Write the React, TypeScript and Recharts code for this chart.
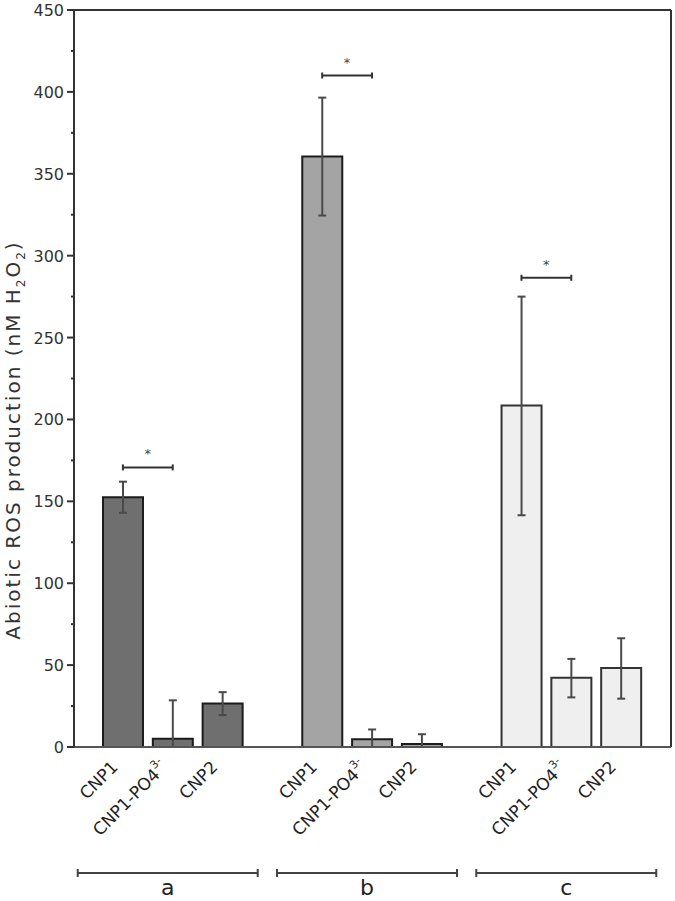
import { BarChart, Bar, XAxis, YAxis, ErrorBar, Cell, ReferenceLine, CartesianGrid } from 'recharts';

const groups = ['a', 'b', 'c'];
const samples = ['CNP1', 'CNP1-PO4', 'CNP2'];

// mean values per group, in sample order
const groupA = [152.5, 5, 26.5];
const groupB = [360.5, 4.7, 1.8];
const groupC = [208.5, 42.3, 48.2];

// [minus, plus] error per sample
const errA = [[9.5, 9.5], [5, 23.5], [7, 7]];
const errB = [[36, 36], [4.7, 6], [1.8, 6]];
const errC = [[67, 66.5], [12, 11.5], [18.7, 18.2]];

// height of the * bracket between CNP1 and CNP1-PO4 in each group
const sigLevels = [170.7, 410, 286.5];

const groupFills = ['#6f6f6f', '#a4a4a4', '#efefef'];
const groupStrokes = ['#1c1c1c', '#1c1c1c', '#333333'];

const yTicks = [0, 25, 50, 75, 100, 125, 150, 175, 200, 225, 250, 275, 300, 325, 350, 375, 400, 425, 450];

const values = [groupA, groupB, groupC];
const errors = [errA, errB, errC];

type Row = { key: string; value: number | null; err?: number[]; g?: number; s?: number };

const rows: Row[] = [];
groups.forEach((g, gi) => {
  samples.forEach((s, si) => {
    rows.push({ key: `${g}-${si}`, value: values[gi][si], err: errors[gi][si], g: gi, s: si });
  });
  if (gi < groups.length - 1) rows.push({ key: `gap-${gi}`, value: null });
});

const AXIS_X = 74;
const AXIS_Y = 747;
const FONT = '"DejaVu Sans", sans-serif';

function YTick({ y, payload }: any) {
  const major = payload.value % 50 === 0;
  return (
    <g>
      <line x1={AXIS_X - (major ? 7 : 3)} x2={AXIS_X} y1={y} y2={y} stroke="#333" strokeWidth={2} />
      {major && (
        <text x={AXIS_X - 10} y={y} dy={6} textAnchor="end" fontSize={16} fill="#333" fontFamily={FONT}>
          {payload.value}
        </text>
      )}
    </g>
  );
}

function XTick({ x, payload }: any) {
  const row = rows.find((r) => r.key === payload.value);
  if (!row || row.s == null) return null;
  const tx = x - 4;
  const ty = AXIS_Y + 21;
  return (
    <g>
      <g transform={`translate(${tx}, ${ty}) rotate(-45)`}>
        <text x={0} y={0} textAnchor="end" fontSize={17} fill="#222" fontFamily={FONT}>
          {samples[row.s]}
          {row.s === 1 && (
            <tspan dy={-9} fontSize={11}>
              3-
            </tspan>
          )}
        </text>
      </g>
      {row.s === 1 && (
        <g>
          <line x1={x - 95} x2={x + 85} y1={AXIS_Y + 126} y2={AXIS_Y + 126} stroke="#444" strokeWidth={2} />
          <line x1={x - 95} x2={x - 95} y1={AXIS_Y + 122} y2={AXIS_Y + 130} stroke="#444" strokeWidth={2} />
          <line x1={x + 85} x2={x + 85} y1={AXIS_Y + 122} y2={AXIS_Y + 130} stroke="#444" strokeWidth={2} />
          <text x={x - 5} y={AXIS_Y + 148} textAnchor="middle" fontSize={22} fill="#222" fontFamily={FONT}>
            {groups[row.g as number]}
          </text>
        </g>
      )}
    </g>
  );
}

function YLabel() {
  const cx = 20;
  const cy = 440;
  return (
    <g transform={`translate(${cx}, ${cy}) rotate(-90)`}>
      <text x={0} y={0} textAnchor="middle" fontSize={20} letterSpacing={2} fill="#333" fontFamily={FONT}>
        Abiotic ROS production (nM H
        <tspan dy={5} fontSize={12}>2</tspan>
        <tspan dy={-5}>O</tspan>
        <tspan dy={5} fontSize={12}>2</tspan>
        <tspan dy={-5}>)</tspan>
      </text>
    </g>
  );
}

function SigBracket(props: any) {
  const { x1, x2, y1 } = props;
  if (x1 == null) return null;
  return (
    <g>
      <line x1={x1} x2={x2} y1={y1} y2={y1} stroke="#333" strokeWidth={2} />
      <line x1={x1} x2={x1} y1={y1 - 3} y2={y1 + 3} stroke="#333" strokeWidth={2} />
      <line x1={x2} x2={x2} y1={y1 - 3} y2={y1 + 3} stroke="#333" strokeWidth={2} />
      <text x={(x1 + x2) / 2} y={y1 - 9} textAnchor="middle" fontSize={13} fill="#444" fontFamily={FONT}>
        *
      </text>
    </g>
  );
}

export default function App() {
  return (
    <div style={{ position: 'fixed', left: 0, top: 0, background: '#fff' }}>
      <BarChart width={675} height={901} data={rows} margin={{ top: 10, right: 4, bottom: 0, left: 0 }}>
        {/* top and right frame lines */}
        <CartesianGrid
          stroke="#333"
          strokeWidth={2}
          horizontalCoordinatesGenerator={({ offset }: any) => [offset.top]}
          verticalCoordinatesGenerator={({ offset }: any) => [offset.left + offset.width]}
        />
        <XAxis
          dataKey="key"
          interval={0}
          height={154}
          tickLine={false}
          tick={<XTick />}
          padding={{ left: 24, right: 25 }}
          axisLine={{ stroke: '#555', strokeWidth: 2 }}
        />
        <YAxis
          width={74}
          domain={[0, 450]}
          ticks={yTicks}
          interval={0}
          tickLine={false}
          tick={<YTick />}
          axisLine={{ stroke: '#333', strokeWidth: 2 }}
          label={{ content: () => <YLabel /> }}
        />
        <Bar dataKey="value" barSize={40} strokeWidth={2} isAnimationActive={false}>
          {rows.map((r) => (
            <Cell
              key={r.key}
              fill={r.g != null ? groupFills[r.g] : 'none'}
              stroke={r.g != null ? groupStrokes[r.g] : 'none'}
            />
          ))}
          <ErrorBar dataKey="err" width={4} stroke="#4a4a4a" strokeWidth={2} />
        </Bar>
        {groups.map((g, gi) => (
          <ReferenceLine
            key={g}
            segment={[
              { x: `${g}-0`, y: sigLevels[gi] },
              { x: `${g}-1`, y: sigLevels[gi] },
            ]}
            shape={<SigBracket />}
          />
        ))}
      </BarChart>
    </div>
  );
}
